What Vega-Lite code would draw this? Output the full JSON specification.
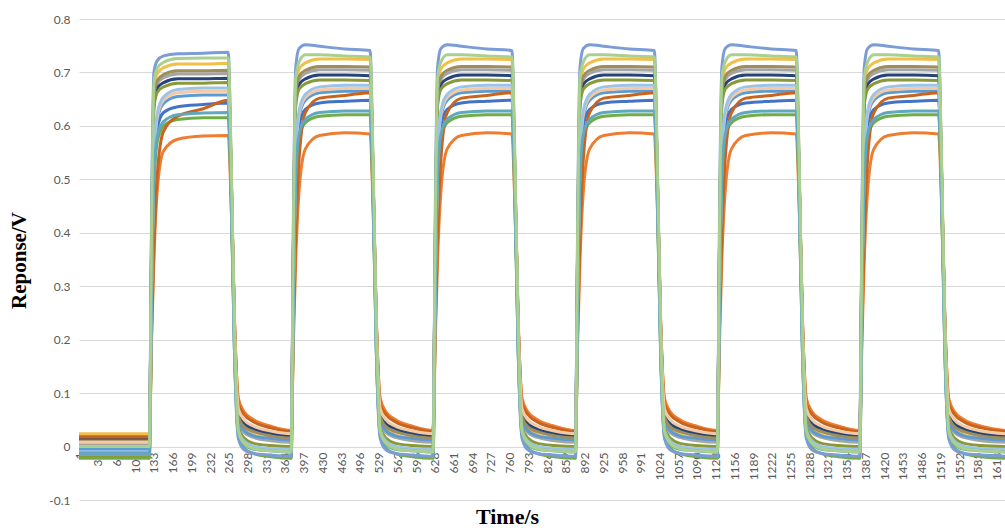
{
"$schema": "https://vega.github.io/schema/vega-lite/v6.json",
"width": 926, "height": 481,
"autosize": {"type": "none"},
"padding": {"left": 79, "top": 19, "right": 0, "bottom": 30},
"background": "white",
"config": {"view": {"stroke": null}},
"data": {"values": [
{"t":1,"a":0.012,"b":0.022,"c":0.005,"d":0.024,"e":-0.005,"f":-0.022,"g":0.016,"h":0.018,"i":0.010,"j":-0.018,"k":-0.015,"l":0.008,"m":-0.01,"n":-0.012,"o":0.0},
{"t":125,"a":0.012,"b":0.022,"c":0.005,"d":0.024,"e":-0.005,"f":-0.022,"g":0.016,"h":0.018,"i":0.010,"j":-0.018,"k":-0.015,"l":0.008,"m":-0.01,"n":-0.012,"o":0.0},
{"t":129,"a":0.29,"b":0.20,"c":0.38,"d":0.39,"e":0.30,"f":0.27,"g":0.38,"h":0.22,"i":0.39,"j":0.37,"k":0.45,"l":0.30,"m":0.30,"n":0.28,"o":0.42},
{"t":133,"a":0.513,"b":0.35,"c":0.648,"d":0.666,"e":0.526,"f":0.49,"g":0.640,"h":0.37,"i":0.654,"j":0.632,"k":0.70,"l":0.532,"m":0.537,"n":0.50,"o":0.68},
{"t":139,"a":0.596,"b":0.48,"c":0.680,"d":0.698,"e":0.612,"f":0.57,"g":0.671,"h":0.51,"i":0.685,"j":0.663,"k":0.722,"l":0.618,"m":0.624,"n":0.58,"o":0.708},
{"t":150,"a":0.625,"b":0.553,"c":0.690,"d":0.709,"e":0.642,"f":0.60,"g":0.681,"h":0.59,"i":0.696,"j":0.673,"k":0.731,"l":0.648,"m":0.654,"n":0.608,"o":0.719},
{"t":175,"a":0.636,"b":0.575,"c":0.697,"d":0.716,"e":0.655,"f":0.612,"g":0.688,"h":0.618,"i":0.703,"j":0.680,"k":0.735,"l":0.662,"m":0.668,"n":0.621,"o":0.726},
{"t":220,"a":0.640,"b":0.581,"c":0.697,"d":0.716,"e":0.658,"f":0.615,"g":0.688,"h":0.632,"i":0.703,"j":0.680,"k":0.736,"l":0.665,"m":0.671,"n":0.624,"o":0.727},
{"t":264,"a":0.643,"b":0.582,"c":0.698,"d":0.717,"e":0.658,"f":0.615,"g":0.689,"h":0.648,"i":0.704,"j":0.681,"k":0.738,"l":0.665,"m":0.671,"n":0.625,"o":0.727},
{"t":269,"a":0.50,"b":0.46,"c":0.52,"d":0.53,"e":0.50,"f":0.47,"g":0.52,"h":0.50,"i":0.52,"j":0.51,"k":0.53,"l":0.51,"m":0.51,"n":0.48,"o":0.55},
{"t":275,"a":0.22,"b":0.23,"c":0.21,"d":0.22,"e":0.21,"f":0.18,"g":0.23,"h":0.24,"i":0.22,"j":0.20,"k":0.18,"l":0.23,"m":0.19,"n":0.18,"o":0.22},
{"t":282,"a":0.06,"b":0.09,"c":0.045,"d":0.055,"e":0.05,"f":0.02,"g":0.065,"h":0.08,"i":0.055,"j":0.035,"k":0.015,"l":0.07,"m":0.03,"n":0.025,"o":0.028},
{"t":292,"a":0.042,"b":0.065,"c":0.026,"d":0.034,"e":0.03,"f":-0.003,"g":0.045,"h":0.06,"i":0.037,"j":0.016,"k":-0.006,"l":0.05,"m":0.01,"n":0.004,"o":0.006},
{"t":309,"a":0.032,"b":0.05,"c":0.017,"d":0.022,"e":0.02,"f":-0.013,"g":0.033,"h":0.046,"i":0.028,"j":0.006,"k":-0.013,"l":0.038,"m":0.0,"n":-0.005,"o":-0.004},
{"t":339,"a":0.024,"b":0.038,"c":0.011,"d":0.015,"e":0.015,"f":-0.019,"g":0.025,"h":0.035,"i":0.02,"j":0.002,"k":-0.016,"l":0.029,"m":-0.004,"n":-0.008,"o":-0.008},
{"t":375,"a":0.018,"b":0.03,"c":0.008,"d":0.012,"e":0.012,"f":-0.022,"g":0.02,"h":0.028,"i":0.016,"j":0.0,"k":-0.018,"l":0.024,"m":-0.005,"n":-0.01,"o":-0.01},
{"t":379,"a":0.29,"b":0.20,"c":0.39,"d":0.40,"e":0.30,"f":0.27,"g":0.38,"h":0.23,"i":0.39,"j":0.38,"k":0.45,"l":0.30,"m":0.30,"n":0.28,"o":0.42},
{"t":383,"a":0.518,"b":0.35,"c":0.656,"d":0.674,"e":0.532,"f":0.497,"g":0.646,"h":0.39,"i":0.661,"j":0.638,"k":0.71,"l":0.536,"m":0.541,"n":0.502,"o":0.69},
{"t":389,"a":0.602,"b":0.48,"c":0.687,"d":0.707,"e":0.618,"f":0.578,"g":0.678,"h":0.54,"i":0.693,"j":0.669,"k":0.745,"l":0.623,"m":0.629,"n":0.584,"o":0.72},
{"t":400,"a":0.631,"b":0.557,"c":0.698,"d":0.718,"e":0.648,"f":0.606,"g":0.688,"h":0.625,"i":0.704,"j":0.679,"k":0.752,"l":0.653,"m":0.659,"n":0.612,"o":0.733},
{"t":425,"a":0.643,"b":0.582,"c":0.705,"d":0.725,"e":0.662,"f":0.618,"g":0.695,"h":0.652,"i":0.711,"j":0.686,"k":0.749,"l":0.667,"m":0.673,"n":0.625,"o":0.733},
{"t":470,"a":0.646,"b":0.587,"c":0.705,"d":0.725,"e":0.665,"f":0.621,"g":0.695,"h":0.657,"i":0.711,"j":0.686,"k":0.744,"l":0.670,"m":0.676,"n":0.628,"o":0.731},
{"t":514,"a":0.648,"b":0.585,"c":0.704,"d":0.724,"e":0.665,"f":0.621,"g":0.694,"h":0.662,"i":0.710,"j":0.685,"k":0.741,"l":0.670,"m":0.676,"n":0.628,"o":0.729},
{"t":519,"a":0.50,"b":0.46,"c":0.52,"d":0.53,"e":0.50,"f":0.47,"g":0.52,"h":0.50,"i":0.52,"j":0.51,"k":0.53,"l":0.51,"m":0.51,"n":0.48,"o":0.55},
{"t":525,"a":0.22,"b":0.23,"c":0.21,"d":0.22,"e":0.21,"f":0.18,"g":0.23,"h":0.24,"i":0.22,"j":0.20,"k":0.18,"l":0.23,"m":0.19,"n":0.18,"o":0.22},
{"t":532,"a":0.06,"b":0.09,"c":0.045,"d":0.055,"e":0.05,"f":0.02,"g":0.065,"h":0.08,"i":0.055,"j":0.035,"k":0.015,"l":0.07,"m":0.03,"n":0.025,"o":0.028},
{"t":542,"a":0.042,"b":0.065,"c":0.026,"d":0.034,"e":0.03,"f":-0.003,"g":0.045,"h":0.06,"i":0.037,"j":0.016,"k":-0.006,"l":0.05,"m":0.01,"n":0.004,"o":0.006},
{"t":559,"a":0.032,"b":0.05,"c":0.017,"d":0.022,"e":0.02,"f":-0.013,"g":0.033,"h":0.046,"i":0.028,"j":0.006,"k":-0.013,"l":0.038,"m":0.0,"n":-0.005,"o":-0.004},
{"t":589,"a":0.024,"b":0.038,"c":0.011,"d":0.015,"e":0.015,"f":-0.019,"g":0.025,"h":0.035,"i":0.02,"j":0.002,"k":-0.016,"l":0.029,"m":-0.004,"n":-0.008,"o":-0.008},
{"t":625,"a":0.018,"b":0.03,"c":0.008,"d":0.012,"e":0.012,"f":-0.022,"g":0.02,"h":0.028,"i":0.016,"j":0.0,"k":-0.018,"l":0.024,"m":-0.005,"n":-0.01,"o":-0.01},
{"t":629,"a":0.29,"b":0.20,"c":0.39,"d":0.40,"e":0.30,"f":0.27,"g":0.38,"h":0.23,"i":0.39,"j":0.38,"k":0.45,"l":0.30,"m":0.30,"n":0.28,"o":0.42},
{"t":633,"a":0.518,"b":0.35,"c":0.656,"d":0.674,"e":0.532,"f":0.497,"g":0.646,"h":0.39,"i":0.661,"j":0.638,"k":0.71,"l":0.536,"m":0.541,"n":0.502,"o":0.69},
{"t":639,"a":0.602,"b":0.48,"c":0.687,"d":0.707,"e":0.618,"f":0.578,"g":0.678,"h":0.54,"i":0.693,"j":0.669,"k":0.745,"l":0.623,"m":0.629,"n":0.584,"o":0.72},
{"t":650,"a":0.631,"b":0.557,"c":0.698,"d":0.718,"e":0.648,"f":0.606,"g":0.688,"h":0.625,"i":0.704,"j":0.679,"k":0.752,"l":0.653,"m":0.659,"n":0.612,"o":0.733},
{"t":675,"a":0.643,"b":0.582,"c":0.705,"d":0.725,"e":0.662,"f":0.618,"g":0.695,"h":0.652,"i":0.711,"j":0.686,"k":0.749,"l":0.667,"m":0.673,"n":0.625,"o":0.733},
{"t":720,"a":0.646,"b":0.587,"c":0.705,"d":0.725,"e":0.665,"f":0.621,"g":0.695,"h":0.657,"i":0.711,"j":0.686,"k":0.744,"l":0.670,"m":0.676,"n":0.628,"o":0.731},
{"t":764,"a":0.648,"b":0.585,"c":0.704,"d":0.724,"e":0.665,"f":0.621,"g":0.694,"h":0.662,"i":0.710,"j":0.685,"k":0.741,"l":0.670,"m":0.676,"n":0.628,"o":0.729},
{"t":769,"a":0.50,"b":0.46,"c":0.52,"d":0.53,"e":0.50,"f":0.47,"g":0.52,"h":0.50,"i":0.52,"j":0.51,"k":0.53,"l":0.51,"m":0.51,"n":0.48,"o":0.55},
{"t":775,"a":0.22,"b":0.23,"c":0.21,"d":0.22,"e":0.21,"f":0.18,"g":0.23,"h":0.24,"i":0.22,"j":0.20,"k":0.18,"l":0.23,"m":0.19,"n":0.18,"o":0.22},
{"t":782,"a":0.06,"b":0.09,"c":0.045,"d":0.055,"e":0.05,"f":0.02,"g":0.065,"h":0.08,"i":0.055,"j":0.035,"k":0.015,"l":0.07,"m":0.03,"n":0.025,"o":0.028},
{"t":792,"a":0.042,"b":0.065,"c":0.026,"d":0.034,"e":0.03,"f":-0.003,"g":0.045,"h":0.06,"i":0.037,"j":0.016,"k":-0.006,"l":0.05,"m":0.01,"n":0.004,"o":0.006},
{"t":809,"a":0.032,"b":0.05,"c":0.017,"d":0.022,"e":0.02,"f":-0.013,"g":0.033,"h":0.046,"i":0.028,"j":0.006,"k":-0.013,"l":0.038,"m":0.0,"n":-0.005,"o":-0.004},
{"t":839,"a":0.024,"b":0.038,"c":0.011,"d":0.015,"e":0.015,"f":-0.019,"g":0.025,"h":0.035,"i":0.02,"j":0.002,"k":-0.016,"l":0.029,"m":-0.004,"n":-0.008,"o":-0.008},
{"t":876,"a":0.018,"b":0.03,"c":0.008,"d":0.012,"e":0.012,"f":-0.022,"g":0.02,"h":0.028,"i":0.016,"j":0.0,"k":-0.018,"l":0.024,"m":-0.005,"n":-0.01,"o":-0.01},
{"t":880,"a":0.29,"b":0.20,"c":0.39,"d":0.40,"e":0.30,"f":0.27,"g":0.38,"h":0.23,"i":0.39,"j":0.38,"k":0.45,"l":0.30,"m":0.30,"n":0.28,"o":0.42},
{"t":884,"a":0.518,"b":0.35,"c":0.656,"d":0.674,"e":0.532,"f":0.497,"g":0.646,"h":0.39,"i":0.661,"j":0.638,"k":0.71,"l":0.536,"m":0.541,"n":0.502,"o":0.69},
{"t":890,"a":0.602,"b":0.48,"c":0.687,"d":0.707,"e":0.618,"f":0.578,"g":0.678,"h":0.54,"i":0.693,"j":0.669,"k":0.745,"l":0.623,"m":0.629,"n":0.584,"o":0.72},
{"t":901,"a":0.631,"b":0.557,"c":0.698,"d":0.718,"e":0.648,"f":0.606,"g":0.688,"h":0.625,"i":0.704,"j":0.679,"k":0.752,"l":0.653,"m":0.659,"n":0.612,"o":0.733},
{"t":926,"a":0.643,"b":0.582,"c":0.705,"d":0.725,"e":0.662,"f":0.618,"g":0.695,"h":0.652,"i":0.711,"j":0.686,"k":0.749,"l":0.667,"m":0.673,"n":0.625,"o":0.733},
{"t":971,"a":0.646,"b":0.587,"c":0.705,"d":0.725,"e":0.665,"f":0.621,"g":0.695,"h":0.657,"i":0.711,"j":0.686,"k":0.744,"l":0.670,"m":0.676,"n":0.628,"o":0.731},
{"t":1015,"a":0.648,"b":0.585,"c":0.704,"d":0.724,"e":0.665,"f":0.621,"g":0.694,"h":0.662,"i":0.710,"j":0.685,"k":0.741,"l":0.670,"m":0.676,"n":0.628,"o":0.729},
{"t":1020,"a":0.50,"b":0.46,"c":0.52,"d":0.53,"e":0.50,"f":0.47,"g":0.52,"h":0.50,"i":0.52,"j":0.51,"k":0.53,"l":0.51,"m":0.51,"n":0.48,"o":0.55},
{"t":1026,"a":0.22,"b":0.23,"c":0.21,"d":0.22,"e":0.21,"f":0.18,"g":0.23,"h":0.24,"i":0.22,"j":0.20,"k":0.18,"l":0.23,"m":0.19,"n":0.18,"o":0.22},
{"t":1033,"a":0.06,"b":0.09,"c":0.045,"d":0.055,"e":0.05,"f":0.02,"g":0.065,"h":0.08,"i":0.055,"j":0.035,"k":0.015,"l":0.07,"m":0.03,"n":0.025,"o":0.028},
{"t":1043,"a":0.042,"b":0.065,"c":0.026,"d":0.034,"e":0.03,"f":-0.003,"g":0.045,"h":0.06,"i":0.037,"j":0.016,"k":-0.006,"l":0.05,"m":0.01,"n":0.004,"o":0.006},
{"t":1060,"a":0.032,"b":0.05,"c":0.017,"d":0.022,"e":0.02,"f":-0.013,"g":0.033,"h":0.046,"i":0.028,"j":0.006,"k":-0.013,"l":0.038,"m":0.0,"n":-0.005,"o":-0.004},
{"t":1090,"a":0.024,"b":0.038,"c":0.011,"d":0.015,"e":0.015,"f":-0.019,"g":0.025,"h":0.035,"i":0.02,"j":0.002,"k":-0.016,"l":0.029,"m":-0.004,"n":-0.008,"o":-0.008},
{"t":1126,"a":0.018,"b":0.03,"c":0.008,"d":0.012,"e":0.012,"f":-0.022,"g":0.02,"h":0.028,"i":0.016,"j":0.0,"k":-0.018,"l":0.024,"m":-0.005,"n":-0.01,"o":-0.01},
{"t":1130,"a":0.29,"b":0.20,"c":0.39,"d":0.40,"e":0.30,"f":0.27,"g":0.38,"h":0.23,"i":0.39,"j":0.38,"k":0.45,"l":0.30,"m":0.30,"n":0.28,"o":0.42},
{"t":1134,"a":0.518,"b":0.35,"c":0.656,"d":0.674,"e":0.532,"f":0.497,"g":0.646,"h":0.39,"i":0.661,"j":0.638,"k":0.71,"l":0.536,"m":0.541,"n":0.502,"o":0.69},
{"t":1140,"a":0.602,"b":0.48,"c":0.687,"d":0.707,"e":0.618,"f":0.578,"g":0.678,"h":0.54,"i":0.693,"j":0.669,"k":0.745,"l":0.623,"m":0.629,"n":0.584,"o":0.72},
{"t":1151,"a":0.631,"b":0.557,"c":0.698,"d":0.718,"e":0.648,"f":0.606,"g":0.688,"h":0.625,"i":0.704,"j":0.679,"k":0.752,"l":0.653,"m":0.659,"n":0.612,"o":0.733},
{"t":1176,"a":0.643,"b":0.582,"c":0.705,"d":0.725,"e":0.662,"f":0.618,"g":0.695,"h":0.652,"i":0.711,"j":0.686,"k":0.749,"l":0.667,"m":0.673,"n":0.625,"o":0.733},
{"t":1221,"a":0.646,"b":0.587,"c":0.705,"d":0.725,"e":0.665,"f":0.621,"g":0.695,"h":0.657,"i":0.711,"j":0.686,"k":0.744,"l":0.670,"m":0.676,"n":0.628,"o":0.731},
{"t":1265,"a":0.648,"b":0.585,"c":0.704,"d":0.724,"e":0.665,"f":0.621,"g":0.694,"h":0.662,"i":0.710,"j":0.685,"k":0.741,"l":0.670,"m":0.676,"n":0.628,"o":0.729},
{"t":1270,"a":0.50,"b":0.46,"c":0.52,"d":0.53,"e":0.50,"f":0.47,"g":0.52,"h":0.50,"i":0.52,"j":0.51,"k":0.53,"l":0.51,"m":0.51,"n":0.48,"o":0.55},
{"t":1276,"a":0.22,"b":0.23,"c":0.21,"d":0.22,"e":0.21,"f":0.18,"g":0.23,"h":0.24,"i":0.22,"j":0.20,"k":0.18,"l":0.23,"m":0.19,"n":0.18,"o":0.22},
{"t":1283,"a":0.06,"b":0.09,"c":0.045,"d":0.055,"e":0.05,"f":0.02,"g":0.065,"h":0.08,"i":0.055,"j":0.035,"k":0.015,"l":0.07,"m":0.03,"n":0.025,"o":0.028},
{"t":1293,"a":0.042,"b":0.065,"c":0.026,"d":0.034,"e":0.03,"f":-0.003,"g":0.045,"h":0.06,"i":0.037,"j":0.016,"k":-0.006,"l":0.05,"m":0.01,"n":0.004,"o":0.006},
{"t":1310,"a":0.032,"b":0.05,"c":0.017,"d":0.022,"e":0.02,"f":-0.013,"g":0.033,"h":0.046,"i":0.028,"j":0.006,"k":-0.013,"l":0.038,"m":0.0,"n":-0.005,"o":-0.004},
{"t":1340,"a":0.024,"b":0.038,"c":0.011,"d":0.015,"e":0.015,"f":-0.019,"g":0.025,"h":0.035,"i":0.02,"j":0.002,"k":-0.016,"l":0.029,"m":-0.004,"n":-0.008,"o":-0.008},
{"t":1377,"a":0.018,"b":0.03,"c":0.008,"d":0.012,"e":0.012,"f":-0.022,"g":0.02,"h":0.028,"i":0.016,"j":0.0,"k":-0.018,"l":0.024,"m":-0.005,"n":-0.01,"o":-0.01},
{"t":1381,"a":0.29,"b":0.20,"c":0.39,"d":0.40,"e":0.30,"f":0.27,"g":0.38,"h":0.23,"i":0.39,"j":0.38,"k":0.45,"l":0.30,"m":0.30,"n":0.28,"o":0.42},
{"t":1385,"a":0.518,"b":0.35,"c":0.656,"d":0.674,"e":0.532,"f":0.497,"g":0.646,"h":0.39,"i":0.661,"j":0.638,"k":0.71,"l":0.536,"m":0.541,"n":0.502,"o":0.69},
{"t":1391,"a":0.602,"b":0.48,"c":0.687,"d":0.707,"e":0.618,"f":0.578,"g":0.678,"h":0.54,"i":0.693,"j":0.669,"k":0.745,"l":0.623,"m":0.629,"n":0.584,"o":0.72},
{"t":1402,"a":0.631,"b":0.557,"c":0.698,"d":0.718,"e":0.648,"f":0.606,"g":0.688,"h":0.625,"i":0.704,"j":0.679,"k":0.752,"l":0.653,"m":0.659,"n":0.612,"o":0.733},
{"t":1427,"a":0.643,"b":0.582,"c":0.705,"d":0.725,"e":0.662,"f":0.618,"g":0.695,"h":0.652,"i":0.711,"j":0.686,"k":0.749,"l":0.667,"m":0.673,"n":0.625,"o":0.733},
{"t":1472,"a":0.646,"b":0.587,"c":0.705,"d":0.725,"e":0.665,"f":0.621,"g":0.695,"h":0.657,"i":0.711,"j":0.686,"k":0.744,"l":0.670,"m":0.676,"n":0.628,"o":0.731},
{"t":1516,"a":0.648,"b":0.585,"c":0.704,"d":0.724,"e":0.665,"f":0.621,"g":0.694,"h":0.662,"i":0.710,"j":0.685,"k":0.741,"l":0.670,"m":0.676,"n":0.628,"o":0.729},
{"t":1521,"a":0.50,"b":0.46,"c":0.52,"d":0.53,"e":0.50,"f":0.47,"g":0.52,"h":0.50,"i":0.52,"j":0.51,"k":0.53,"l":0.51,"m":0.51,"n":0.48,"o":0.55},
{"t":1527,"a":0.22,"b":0.23,"c":0.21,"d":0.22,"e":0.21,"f":0.18,"g":0.23,"h":0.24,"i":0.22,"j":0.20,"k":0.18,"l":0.23,"m":0.19,"n":0.18,"o":0.22},
{"t":1534,"a":0.06,"b":0.09,"c":0.045,"d":0.055,"e":0.05,"f":0.02,"g":0.065,"h":0.08,"i":0.055,"j":0.035,"k":0.015,"l":0.07,"m":0.03,"n":0.025,"o":0.028},
{"t":1544,"a":0.042,"b":0.065,"c":0.026,"d":0.034,"e":0.03,"f":-0.003,"g":0.045,"h":0.06,"i":0.037,"j":0.016,"k":-0.006,"l":0.05,"m":0.01,"n":0.004,"o":0.006},
{"t":1561,"a":0.032,"b":0.05,"c":0.017,"d":0.022,"e":0.02,"f":-0.013,"g":0.033,"h":0.046,"i":0.028,"j":0.006,"k":-0.013,"l":0.038,"m":0.0,"n":-0.005,"o":-0.004},
{"t":1591,"a":0.024,"b":0.038,"c":0.011,"d":0.015,"e":0.015,"f":-0.019,"g":0.025,"h":0.035,"i":0.02,"j":0.002,"k":-0.016,"l":0.029,"m":-0.004,"n":-0.008,"o":-0.008},
{"t":1633,"a":0.018,"b":0.03,"c":0.008,"d":0.012,"e":0.012,"f":-0.022,"g":0.02,"h":0.028,"i":0.016,"j":0.0,"k":-0.018,"l":0.024,"m":-0.005,"n":-0.01,"o":-0.01}
]},
"transform": [{"fold": ["a","b","c","d","e","f","g","h","i","j","k","l","m","n","o"], "as": ["s","v"]}],
"mark": {"type": "line", "strokeWidth": 3, "clip": true, "interpolate": "monotone"},
"encoding": {
  "x": {"field": "t", "type": "quantitative",
    "scale": {"domain": [1, 1633], "nice": false, "zero": false},
    "axis": {"values": [1,34,67,100,133,166,199,232,265,298,331,364,397,430,463,496,529,562,595,628,661,694,727,760,793,826,859,892,925,958,991,1024,1057,1090,1123,1156,1189,1222,1255,1288,1321,1354,1387,1420,1453,1486,1519,1552,1585,1618],
      "format": "d",
      "labelAngle": -90, "labelFont": "Lato", "labelFontSize": 12, "labelColor": "#595959",
      "labelOverlap": false, "labelFlush": false, "labelBound": false,
      "grid": false, "domain": false, "ticks": false, "offset": -54, "labelPadding": 6,
      "title": "Time/s", "titleFont": "Liberation Serif", "titleFontSize": 22, "titleFontWeight": "bold", "titleColor": "black",
      "titleX": 428, "titleY": 60, "titleBaseline": "top", "titleAlign": "center"}},
  "y": {"field": "v", "type": "quantitative",
    "scale": {"domain": [-0.1, 0.8], "nice": false, "zero": false},
    "axis": {"values": [-0.1,0,0.1,0.2,0.3,0.4,0.5,0.6,0.7,0.8], "format": "~g",
      "labelExpr": "replace(datum.label, '−', '-')",
      "grid": true, "gridColor": "#D9D9D9", "gridWidth": 1, "domain": false, "ticks": false,
      "labelFont": "Lato", "labelFontSize": 12, "labelColor": "#595959", "labelPadding": 9,
      "title": "Reponse/V", "titleFont": "Liberation Serif", "titleFontSize": 21, "titleFontWeight": "bold", "titleColor": "black",
      "titleX": -60, "titleY": 241, "titleAlign": "center", "titleBaseline": "middle", "titleAngle": -90}},
  "color": {"field": "s", "type": "nominal", "legend": null,
    "scale": {"domain": ["a","b","c","d","e","f","g","h","i","j","k","l","m","n","o"],
      "range": ["#4472C4","#ED7D31","#A5A5A5","#F2C04A","#5B9BD5","#70AD47","#264478","#C8641E","#9E8E5E","#8A9A3A","#7B9CD6","#F5C9A3","#9DC3E6","#5FA8BE","#A9D08E"]}}
}
}
